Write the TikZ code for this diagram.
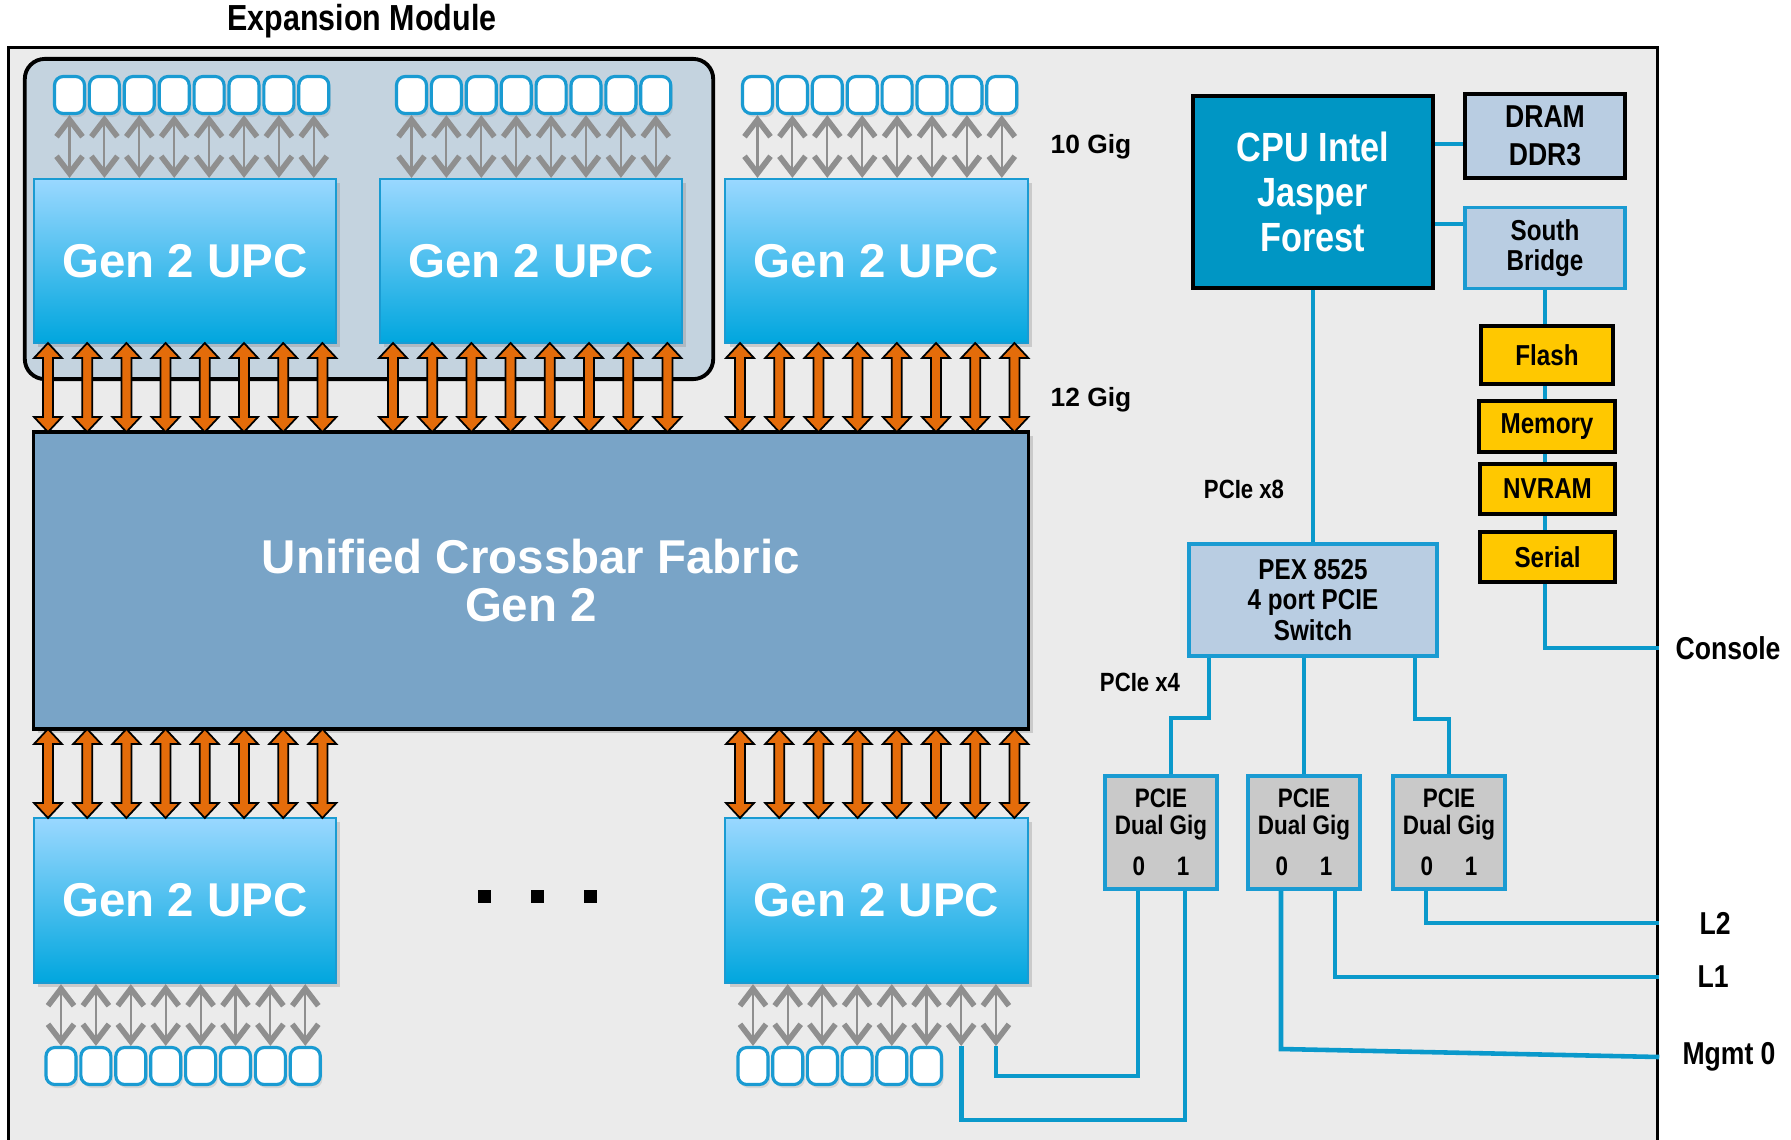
\documentclass[tikz,border=0pt]{standalone}
\usepackage{fontspec}
\setmainfont{Liberation Sans}
\newfontfamily\narrowfont{Liberation Sans}[FakeStretch=0.84]
\usetikzlibrary{calc,shadows,arrows.meta}

\definecolor{fondgris}{HTML}{EBEBEB}
\definecolor{groupebleu}{HTML}{C4D3DF}
\definecolor{upchaut}{HTML}{9AD8FF}
\definecolor{upcbas}{HTML}{00A6DE}
\definecolor{bordbleu}{HTML}{1A9BD2}
\definecolor{xbarbleu}{HTML}{79A4C7}
\definecolor{orangebus}{HTML}{E46C0A}
\definecolor{grisfleche}{HTML}{8F8F8F}
\definecolor{cpubleu}{HTML}{0096C4}
\definecolor{bleuclair}{HTML}{B9CDE2}
\definecolor{jaune}{HTML}{FFC800}
\definecolor{grisgig}{HTML}{C9C9C9}
\definecolor{lienbleu}{HTML}{0A99CB}

\begin{document}
\begin{tikzpicture}[x=0.01cm, y=-0.01cm,
    titre/.style={font=\narrowfont\bfseries\fontsize{10.3}{12}\selectfont},
    cadre/.style={draw=black, line width=1pt, fill=fondgris, minimum width=16.48cm, minimum height=11.12cm},
    boitegroupe/.style={draw=black, line width=1.1pt, fill=groupebleu, rounded corners=0.2cm, minimum width=6.88cm, minimum height=3.2cm},
    upc/.style={draw=bordbleu, line width=0.6pt, top color=upchaut, bottom color=upcbas, minimum width=3.02cm, minimum height=1.64cm, text=white, font=\bfseries\fontsize{13.5}{14}\selectfont, drop shadow={opacity=0.3, shadow xshift=1.2pt, shadow yshift=-1.2pt}},
    crossbar/.style={draw=black, line width=1pt, fill=xbarbleu, minimum width=9.94cm, minimum height=2.97cm, text=white, align=center, font=\bfseries\fontsize{13.5}{13.7}\selectfont, drop shadow={opacity=0.3, shadow xshift=1.2pt, shadow yshift=-1.2pt}},
    port/.style={draw=bordbleu, line width=0.9pt, fill=white, rounded corners=2.5pt, minimum width=0.3cm, minimum height=0.37cm, inner sep=0pt, drop shadow={opacity=0.2, shadow xshift=0.6pt, shadow yshift=-1pt}},
    gig/.style={draw=grisfleche, line width=0.6pt, arrows={Straight Barb[length=0.17cm, width=0.26cm, line width=1.6pt]-Straight Barb[length=0.17cm, width=0.26cm, line width=1.6pt]}},
    busline/.style={draw=black, line width=0.5pt, fill=orangebus, line join=miter},
    pics/busarrow/.style={code={
      \draw[busline] (0,-44.5) -- (14,-29.5) -- (5,-29.5) -- (5,29.5) -- (14,29.5) -- (0,44.5) -- (-14,29.5) -- (-5,29.5) -- (-5,-29.5) -- (-14,-29.5) -- cycle;
    }},
    cpubox/.style={draw=black, line width=1pt, fill=cpubleu, text=white, align=center, minimum width=2.4cm, minimum height=1.92cm, font=\narrowfont\bfseries\fontsize{11.6}{12.8}\selectfont},
    puce/.style={draw=black, line width=1pt, fill=bleuclair, align=center, minimum width=1.6cm, minimum height=0.8cm, font=\narrowfont\bfseries\fontsize{9}{10.8}\selectfont},
    pucebleue/.style={draw=bordbleu, line width=1pt, fill=bleuclair, align=center, font=\narrowfont\bfseries\fontsize{8.2}{8.7}\selectfont},
    memoire/.style={draw=black, line width=1pt, fill=jaune, minimum width=1.35cm, font=\narrowfont\bfseries\fontsize{8.2}{10}\selectfont},
    gigbox/.style={draw=bordbleu, line width=1pt, fill=grisgig, align=center, minimum width=1.12cm, minimum height=1.13cm, inner sep=0pt, font=\narrowfont\bfseries\fontsize{7.6}{7.7}\selectfont},
    vitesse/.style={font=\bfseries\fontsize{7.5}{9}\selectfont},
    petit/.style={font=\narrowfont\bfseries\fontsize{7.5}{9}\selectfont},
    etiq/.style={font=\narrowfont\bfseries\fontsize{9}{11}\selectfont},
    liaison/.style={draw=lienbleu, line width=1.3pt}]

  % Page
  \useasboundingbox (0,0) rectangle (1791,1139);
  \fill[white] (0,0) rectangle (1791,1139);
  \clip (0,0) rectangle (1791,1139);

  % Titre
  \node[titre] (titre) at (362,21) {Expansion Module};

  % Module et groupe
  \node[cadre] (mod) at (833,604) {};
  \node[boitegroupe] (grp) at (369,219) {};

  % Gen 2 UPC
  \node[upc] (upcA) at (185,261) {Gen 2 UPC};
  \node[upc] (upcB) at (531,261) {Gen 2 UPC};
  \node[upc] (upcC) at (876.5,261) {Gen 2 UPC};
  \node[upc, minimum height=1.65cm] (upcD) at (185,900.5) {Gen 2 UPC};
  \node[upc, minimum height=1.65cm] (upcE) at (876.5,900.5) {Gen 2 UPC};

  % Fabric
  \node[crossbar] (xbar) at (531,580.5) {Unified Crossbar Fabric\\Gen 2};

  % Bus 12 Gig
  \foreach \x in {0,...,7} {
    \pic at (48+39.2*\x,387.5) {busarrow};
    \pic at (393+39.2*\x,387.5) {busarrow};
    \pic at (740+39.2*\x,387.5) {busarrow};
    \pic at (48+39.2*\x,773.5) {busarrow};
    \pic at (740+39.2*\x,773.5) {busarrow};
  }

  % Ports 10 Gig du haut
  \foreach \u/\x in {A/69.5, B/411.5, C/757.5} {
    \foreach \i in {1,...,8} {
      \node[port] (p\u\i) at (\x+34.9*\i-34.9,95) {};
      \draw[gig] (p\u\i.south) -- (p\u\i.south |- upc\u.north);
    }
  }

  % Ports 10 Gig du bas
  \foreach \i in {1,...,8} {
    \node[port] (pD\i) at (61+34.9*\i-34.9,1066) {};
    \draw[gig] (upcD.south -| pD\i.north) -- (pD\i.north);
  }
  \foreach \i in {1,...,6} {
    \node[port] (pE\i) at (753+34.7*\i-34.7,1066) {};
    \draw[gig] (upcE.south -| pE\i.north) -- (pE\i.north);
  }
  \coordinate (pE7) at (961.2,1046);
  \coordinate (pE8) at (995.9,1046);
  \draw[gig] (upcE.south -| pE7) -- (pE7);
  \draw[gig] (upcE.south -| pE8) -- (pE8);

  % Points de suspension
  \foreach \x in {484,537,590}
    \fill (\x-6.5,890) rectangle (\x+6.5,903);

  % Vitesses
  \node[vitesse] (ten) at (1091,147) {10 Gig};
  \node[vitesse] (twelve) at (1091,400) {12 Gig};

  % Supervisor
  \node[cpubox] (cpu) at (1313,192) {CPU Intel\\Jasper\\Forest};
  \node[puce] (dram) at (1545,136) {DRAM\\DDR3};
  \node[pucebleue, minimum width=1.6cm, minimum height=0.8cm] (sb) at (1545,248) {South\\Bridge};
  \node[memoire, minimum width=1.32cm, minimum height=0.58cm] (flash) at (1547,355) {Flash};
  \node[memoire, minimum width=1.36cm, minimum height=0.51cm] (mem) at (1547,426.5) {Memory};
  \node[memoire, minimum height=0.5cm] (nvram) at (1547.5,489) {NVRAM};
  \node[memoire, minimum height=0.5cm] (serial) at (1547.5,557) {Serial};

  % PCIe
  \node[pucebleue, minimum width=2.48cm, minimum height=1.12cm] (pex) at (1313,600) {PEX 8525\\4 port PCIE\\Switch};
  \node[petit] (x8) at (1244,489) {PCIe x8};
  \node[petit] (x4) at (1140,682) {PCIe x4};
  \node[gigbox] (gig1) at (1161,832.5) {PCIE\\Dual Gig\\[4pt]0\hspace{9pt}1};
  \node[gigbox] (gig2) at (1304,832.5) {PCIE\\Dual Gig\\[4pt]0\hspace{9pt}1};
  \node[gigbox] (gig3) at (1449,832.5) {PCIE\\Dual Gig\\[4pt]0\hspace{9pt}1};

  % Sorties
  \node[etiq] (con) at (1728,648) {Console};
  \node[etiq] (lb2) at (1715,923) {L2};
  \node[etiq] (lb1) at (1713,977) {L1};
  \node[etiq] (mg) at (1729,1057) {Mgmt 0};

  % Liaisons
  \draw[liaison] (cpu.east |- 0,144) -- (dram.west |- 0,144);
  \draw[liaison] (cpu.east |- 0,224) -- (sb.west |- 0,224);
  \draw[liaison] (sb.south) -- (sb.south |- flash.north);
  \draw[liaison] (flash.south -| sb.south) -- (sb.south |- mem.north);
  \draw[liaison] (mem.south -| sb.south) -- (sb.south |- nvram.north);
  \draw[liaison] (nvram.south -| sb.south) -- (sb.south |- serial.north);
  \draw[liaison] (serial.south -| sb.south) |- (mod.east |- con.west);
  \draw[liaison] (cpu.south) -- (pex.north);
  \draw[liaison] (pex.south -| 1209,0) |- (1171,718) -- (1171,0 |- gig1.north);
  \draw[liaison] (gig2.north |- pex.south) -- (gig2.north);
  \draw[liaison] (pex.south -| 1415,0) |- (gig3.north |- 0,719) -- (gig3.north);

  \coordinate (g1a) at ($(gig1.south)+(-23,0)$);
  \coordinate (g1b) at ($(gig1.south)+(24,0)$);
  \coordinate (g2a) at ($(gig2.south)+(-23,0)$);
  \coordinate (g2b) at ($(gig2.south)+(31,0)$);
  \coordinate (g3a) at ($(gig3.south)+(-23,0)$);
  \draw[liaison] (g3a) |- (mod.east |- lb2.west);
  \draw[liaison] (g2b) |- (mod.east |- lb1.west);
  \draw[liaison] (g2a) -- (g2a |- 0,1049) -- (mod.east |- mg.west);
  \draw[liaison] (g1a) -- (g1a |- 0,1076) -| (pE8);
  \draw[liaison] (g1b) -- (g1b |- 0,1120) -| (pE7);
\end{tikzpicture}
\end{document}
